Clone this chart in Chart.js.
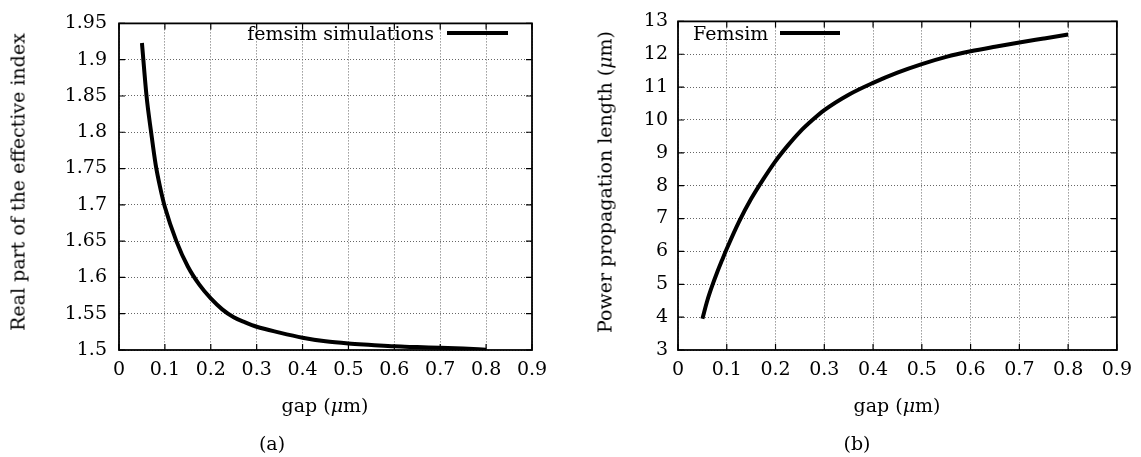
<!DOCTYPE html>
<html>
<head>
<meta charset="utf-8">
<script src="https://cdn.jsdelivr.net/npm/chart.js@4.4.1/dist/chart.umd.min.js"></script>
<style>
    body { margin: 0; background: #fff; }
    #page { position: relative; width: 1141px; height: 457px; font-family: "DejaVu Serif", serif; color: #000; }
    canvas { position: absolute; top: 0; }
    .lbl { position: absolute; font-size: 19px; white-space: nowrap; line-height: 1; }
    .vert { transform: translate(-50%, -50%) rotate(-90deg); }
    .ctr { transform: translate(-50%, -50%); }
    .key { position: absolute; height: 4px; background: #000; }
</style>
</head>
<body>
<div id="page">
    <canvas id="chartA" width="560" height="457" style="left:0"></canvas>
    <canvas id="chartB" width="581" height="457" style="left:560px"></canvas>

    <div class="lbl vert" style="left:18px; top:182px">Real part of the effective index</div>
    <div class="lbl ctr" style="left:325px; top:405px">gap (<i>μ</i>m)</div>
    <div class="lbl ctr" style="left:272px; top:443px">(a)</div>
    <div class="lbl" style="right:707px; top:24px">femsim simulations</div>
    <div class="key" style="left:447px; top:31px; width:61px"></div>

    <div class="lbl vert" style="left:605px; top:182px">Power propagation length (<i>μ</i>m)</div>
    <div class="lbl ctr" style="left:897px; top:405px">gap (<i>μ</i>m)</div>
    <div class="lbl ctr" style="left:857px; top:443px">(b)</div>
    <div class="lbl" style="left:693px; top:24px">Femsim</div>
    <div class="key" style="left:780px; top:31px; width:60px"></div>
</div>

<script>
// gap values (um), shared by both panels
const gap = [0.05, 0.06, 0.07, 0.08, 0.09, 0.1, 0.125, 0.15, 0.175, 0.2, 0.225, 0.25,
             0.275, 0.3, 0.35, 0.4, 0.45, 0.5, 0.55, 0.6, 0.65, 0.7, 0.75, 0.8];

// (a) real part of effective index
const neffReal = [1.923, 1.85, 1.80, 1.755, 1.723, 1.697, 1.65, 1.615, 1.59, 1.571, 1.556, 1.545,
                  1.538, 1.532, 1.524, 1.517, 1.512, 1.509, 1.507, 1.505, 1.504, 1.503, 1.502, 1.5005];

// (b) power propagation length (um)
const propLength = [3.95, 4.5, 4.95, 5.35, 5.72, 6.08, 6.9, 7.6, 8.2, 8.75, 9.22, 9.64,
                    9.99, 10.3, 10.77, 11.13, 11.44, 11.7, 11.92, 12.09, 12.23, 12.36, 12.48, 12.6];

const xTicks = [0, 0.1, 0.2, 0.3, 0.4, 0.5, 0.6, 0.7, 0.8, 0.9];
const yTicksA = [1.5, 1.55, 1.6, 1.65, 1.7, 1.75, 1.8, 1.85, 1.9, 1.95];
const yTicksB = [3, 4, 5, 6, 7, 8, 9, 10, 11, 12, 13];

const tickFont = { family: "DejaVu Serif", size: 19 };

// gnuplot style frame with inward tick marks
const framePlugin = {
    id: "frame",
    afterDatasetsDraw(chart) {
        const ctx = chart.ctx;
        const a = chart.chartArea;
        const len = 6;
        ctx.save();
        ctx.strokeStyle = "#000";
        ctx.lineWidth = 1.2;
        ctx.beginPath();
        chart.scales.x.ticks.forEach(t => {
            const px = chart.scales.x.getPixelForValue(t.value);
            ctx.moveTo(px, a.bottom); ctx.lineTo(px, a.bottom - len);
            ctx.moveTo(px, a.top); ctx.lineTo(px, a.top + len);
        });
        chart.scales.y.ticks.forEach(t => {
            const py = chart.scales.y.getPixelForValue(t.value);
            ctx.moveTo(a.left, py); ctx.lineTo(a.left + len, py);
            ctx.moveTo(a.right, py); ctx.lineTo(a.right - len, py);
        });
        ctx.stroke();
        ctx.lineWidth = 1.8;
        ctx.strokeRect(a.left, a.top, a.right - a.left, a.bottom - a.top);
        ctx.restore();
    }
};

function makeChart(id, values, yTicks, yFmt, yWidth, rightPad, yPad) {
    const points = gap.map((g, i) => ({ x: g, y: values[i] }));
    return new Chart(document.getElementById(id), {
        type: "line",
        data: {
            datasets: [{
                data: points,
                borderColor: "#000",
                borderWidth: 4,
                pointRadius: 0,
                cubicInterpolationMode: "monotone",
                fill: false
            }]
        },
        options: {
            responsive: false,
            animation: false,
            layout: { padding: { left: 0, top: 15, right: rightPad, bottom: 0 } },
            plugins: { legend: { display: false }, tooltip: { enabled: false } },
            scales: {
                x: {
                    type: "linear",
                    min: xTicks[0],
                    max: xTicks[xTicks.length - 1],
                    afterBuildTicks: s => { s.ticks = xTicks.map(v => ({ value: v })); },
                    afterFit: s => { s.height = 107; },
                    ticks: {
                        color: "#000",
                        font: tickFont,
                        padding: 9,
                        maxRotation: 0,
                        callback: v => String(v)
                    },
                    grid: { color: "#666", lineWidth: 1, drawTicks: false },
                    border: { display: false, dash: [1, 2] }
                },
                y: {
                    min: yTicks[0],
                    max: yTicks[yTicks.length - 1],
                    afterBuildTicks: s => { s.ticks = yTicks.map(v => ({ value: v })); },
                    afterFit: s => { s.width = yWidth; },
                    ticks: {
                        color: "#000",
                        font: tickFont,
                        padding: yPad,
                        callback: yFmt
                    },
                    grid: { color: "#666", lineWidth: 1, drawTicks: false },
                    border: { display: false, dash: [1, 2] }
                }
            }
        },
        plugins: [framePlugin]
    });
}

makeChart("chartA", neffReal, yTicksA, v => String(Number(v.toFixed(2))), 119, 28, 12);
makeChart("chartB", propLength, yTicksB, v => String(v), 118, 23, 10);
</script>
</body>
</html>
